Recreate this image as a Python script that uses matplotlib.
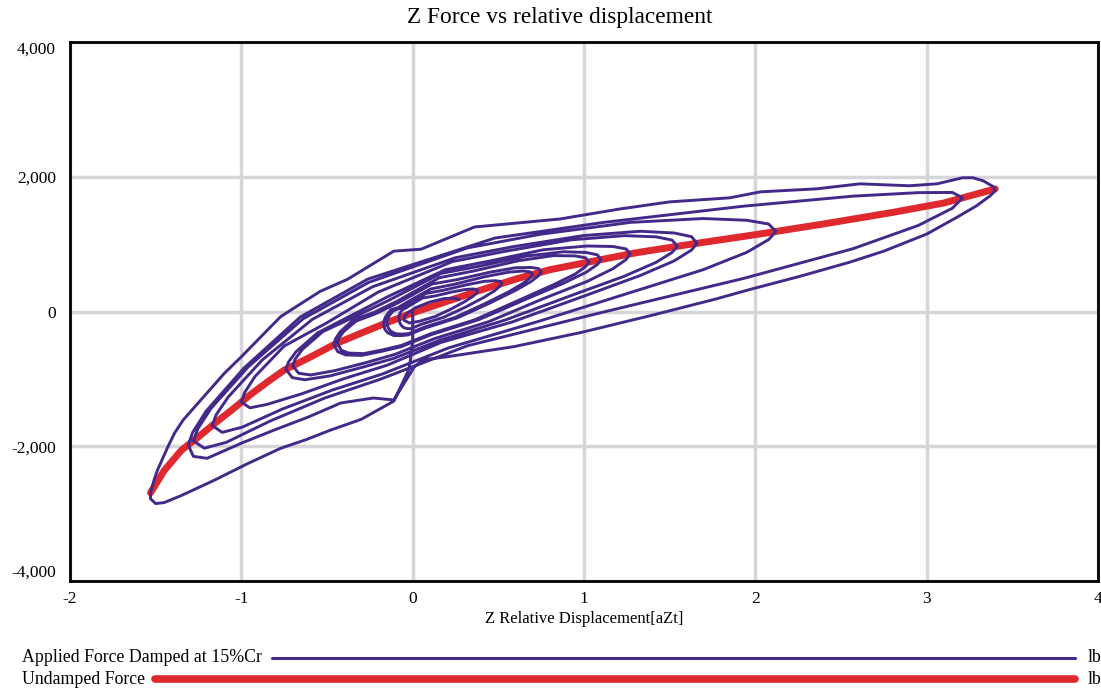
import matplotlib
matplotlib.use("Agg")
import matplotlib.pyplot as plt
from matplotlib.lines import Line2D

plt.rcParams['font.family'] = ['Liberation Serif', 'DejaVu Serif']
plt.rcParams['axes.unicode_minus'] = False

PURPLE = '#43298a'
RED = '#e0282f'

# undamped spring force against relative displacement
spring_disp = [-1.53, -1.45, -1.35, -1.25, -1.15, -1.05, -0.95, -0.85, -0.75, -0.60, -0.45,
               -0.30, -0.15, 0.00, 0.20, 0.40, 0.60, 0.80, 1.00, 1.30, 1.60, 2.00, 2.40,
               2.80, 3.10, 3.40]
undamped_force = [-2690, -2360, -2060, -1860, -1650, -1450, -1240, -1050, -870, -680, -480,
                  -320, -165, -20, 150, 320, 480, 620, 720, 870, 990, 1140, 1300,
                  1470, 1610, 1820]

# damped force trace (15% Cr), in time order
rel_disp = [
    0.00, 0.00, -0.02, -0.11, -0.30, -0.48, -0.62, -0.77, -0.96, -1.16, -1.35, -1.45, -1.50, -1.53,
    -1.53, -1.51, -1.49, -1.43, -1.39, -1.34, -1.20, -1.10, -1.00, -0.77, -0.54, -0.38, -0.11, 0.05,
    0.36, 0.86, 1.21, 1.50, 1.85, 2.03, 2.36, 2.61, 2.90, 3.06, 3.21, 3.27, 3.33, 3.39, 3.40,
    3.37, 3.29, 3.18, 3.00, 2.75, 2.55, 2.26, 1.97, 1.76, 1.39, 0.98, 0.59, 0.20, 0.06, 0.01,
    -0.11, -0.23, -0.42, -0.61, -0.81, -1.00, -1.20, -1.28, -1.31,
    -1.284, -1.205, -0.983, -0.655, -0.262, 0.48, 1.12, 1.93, 2.57, 2.95, 3.15, 3.21,
    3.15, 2.95, 2.57, 1.93, 1.12, 0.32, -0.192, -0.512, -0.832, -1.088, -1.216, -1.28,
    -1.254, -1.178, -0.96, -0.64, -0.256, 0.318, 0.742, 1.272, 1.696, 1.95, 2.078, 2.12,
    2.078, 1.95, 1.696, 1.272, 0.742, 0.212, -0.176, -0.468, -0.761, -0.995, -1.112, -1.17,
    -1.147, -1.076, -0.878, -0.585, -0.234, 0.249, 0.581, 0.996, 1.328, 1.527, 1.627, 1.66,
    1.627, 1.527, 1.328, 0.996, 0.581, 0.166, -0.15, -0.40, -0.65, -0.85, -0.95, -1.00,
    -0.98, -0.92, -0.75, -0.50, -0.20, 0.232, 0.541, 0.927, 1.236, 1.421, 1.514, 1.545,
    1.514, 1.421, 1.236, 0.927, 0.541, 0.155, -0.111, -0.296, -0.481, -0.629, -0.703, -0.74,
    -0.725, -0.681, -0.555, -0.37, -0.148, 0.19, 0.445, 0.762, 1.016, 1.168, 1.245, 1.27,
    1.245, 1.168, 1.016, 0.762, 0.445, 0.127, -0.105, -0.28, -0.455, -0.595, -0.665, -0.70,
    -0.686, -0.644, -0.525, -0.35, -0.14, 0.165, 0.385, 0.66, 0.88, 1.012, 1.078, 1.10,
    1.078, 1.012, 0.88, 0.66, 0.385, 0.11, -0.069, -0.184, -0.299, -0.391, -0.437, -0.46,
    -0.451, -0.423, -0.345, -0.23, -0.092, 0.155, 0.361, 0.618, 0.824, 0.948, 1.009, 1.03,
    1.009, 0.948, 0.824, 0.618, 0.361, 0.103, -0.066, -0.176, -0.286, -0.374, -0.418, -0.44,
    -0.431, -0.405, -0.33, -0.22, -0.088, 0.113, 0.263, 0.45, 0.60, 0.69, 0.735, 0.75,
    0.735, 0.69, 0.60, 0.45, 0.263, 0.075, -0.026, -0.068, -0.111, -0.145, -0.162, -0.17,
    -0.167, -0.156, -0.128, -0.085, -0.034, 0.105, 0.245, 0.42, 0.56, 0.644, 0.686, 0.70,
    0.686, 0.644, 0.56, 0.42, 0.245, 0.07, -0.023, -0.06, -0.098, -0.128, -0.143, -0.15,
    -0.147, -0.138, -0.113, -0.075, -0.03, 0.078, 0.182, 0.312, 0.416, 0.478, 0.51, 0.52,
    0.51, 0.478, 0.416, 0.312, 0.182, 0.052, -0.012, -0.032, -0.052, -0.068, -0.076, -0.08,
    -0.078, -0.074, -0.06, -0.04, -0.016, 0.057, 0.133, 0.228, 0.304, 0.35, 0.372, 0.38,
    0.372, 0.35, 0.304, 0.228, 0.133, 0.038, -0.02, -0.05,
    -0.05, -0.03, 0.02, 0.10, 0.18, 0.24, 0.27,
]
applied_force = [
    -20, -450, -850, -1330, -1600, -1761, -1900, -2030, -2254, -2507, -2731, -2836, -2851, -2780,
    -2690, -2507, -2358, -2015, -1806, -1612, -1209, -920, -672, -75, 299, 478, 896, 925,
    1254, 1373, 1522, 1627, 1687, 1776, 1821, 1895, 1866, 1895, 1985, 1985, 1940, 1851, 1791,
    1716, 1567, 1403, 1149, 896, 731, 522, 328, 179, -60, -313, -522, -672, -716, -821,
    -1313, -1284, -1358, -1567, -1761, -1955, -2179, -2150, -1980,
    -1794, -1477, -836, -80, 481, 1090, 1324, 1563, 1712, 1764, 1767, 1687,
    1533, 1276, 932, 490, -4, -508, -1008, -1283, -1626, -1942, -2029, -1920,
    -1741, -1441, -822, -109, 433, 943, 1145, 1323, 1380, 1354, 1298, 1188,
    1068, 878, 621, 283, -141, -538, -927, -1165, -1448, -1717, -1794, -1692,
    -1533, -1267, -719, -116, 367, 798, 960, 1127, 1191, 1165, 1111, 1012,
    911, 752, 534, 225, -155, -459, -798, -996, -1224, -1379, -1430, -1345,
    -1199, -964, -513, -167, 290, 741, 894, 1064, 1126, 1108, 1060, 968,
    877, 730, 524, 239, -126, -430, -697, -829, -955, -1013, -981, -857,
    -751, -598, -317, -75, 217, 620, 747, 916, 972, 965, 929, 855,
    770, 634, 444, 190, -150, -403, -638, -764, -878, -942, -917, -807,
    -707, -563, -299, -93, 165, 565, 670, 821, 887, 876, 841, 770,
    698, 582, 419, 181, -122, -342, -524, -593, -652, -644, -597, -493,
    -409, -300, -123, -18, 151, 501, 604, 754, 830, 825, 797, 735,
    666, 555, 400, 165, -125, -332, -504, -570, -625, -617, -572, -469,
    -397, -303, -142, -37, 125, 408, 475, 583, 649, 654, 637, 585,
    532, 443, 313, 125, -92, -244, -347, -358, -356, -317, -268, -185,
    -134, -69, 25, 58, 137, 334, 405, 516, 584, 601, 588, 550,
    499, 417, 291, 114, -91, -231, -328, -335, -331, -293, -244, -165,
    -121, -67, 12, 47, 111, 268, 317, 395, 447, 457, 449, 416,
    377, 308, 210, 70, -85, -189, -256, -253, -240, -202, -160, -97,
    -63, -25, 29, 51, 90, 200, 232, 289, 325, 334, 328, 303,
    272, 222, 147, 42, -73, -146, -170, -130,
    -80, -20, 60, 140, 190, 200, 180,
]

x_ticks = [-2, -1, 0, 1, 2, 3, 4]
y_ticks = [-4000, -2000, 0, 2000, 4000]
y_labels = ['-4,000', '-2,000', '0', '2,000', '4,000']

fig = plt.figure(figsize=(11.01, 6.90), dpi=100)
ax = fig.add_axes([70 / 1101, 109 / 690, 1028 / 1101, 539 / 690])

ax.plot(spring_disp, undamped_force, color=RED, lw=5, solid_capstyle='round', zorder=2)
ax.plot(rel_disp, applied_force, color=PURPLE, lw=2.1, solid_joinstyle='round', zorder=3)

ax.set_xlim(-2, 4)
ax.set_ylim(-4000, 4000)
ax.set_xticks(x_ticks)
ax.set_yticks(y_ticks)
ax.set_yticklabels(y_labels)
ax.grid(color='#d5d5da', lw=2.5)
ax.set_axisbelow(True)
for sp in ax.spines.values():
    sp.set_linewidth(2)
    sp.set_color('black')
ax.tick_params(axis='both', length=0, labelsize=12.5)
ax.tick_params(axis='y', pad=10)
ax.tick_params(axis='x', pad=7)
ylab = ax.get_yticklabels()
ylab[-1].set_va('top')
ylab[0].set_va('bottom')
ax.set_xlabel('Z Relative Displacement[aZt]', fontsize=12, labelpad=3)

fig.text(560 / 1101, 1 - 17 / 690, 'Z Force vs relative displacement',
         ha='center', va='center', fontsize=16.8)

# legend rows under the chart
for label, color, lw, x0, ypix in [('Applied Force Damped at 15%Cr', PURPLE, 2.2, 272, 658),
                                   ('Undamped Force', RED, 5.5, 155, 679)]:
    yy = 1 - ypix / 690
    fig.text(22 / 1101, yy, label, ha='left', va='center', fontsize=12.8)
    fig.add_artist(Line2D([x0 / 1101, 1075 / 1101], [yy, yy], color=color, lw=lw,
                          solid_capstyle='round'))
    fig.text(1088 / 1101, yy, 'lb', ha='left', va='center', fontsize=12.8)

fig.savefig('out.png', dpi=100)
